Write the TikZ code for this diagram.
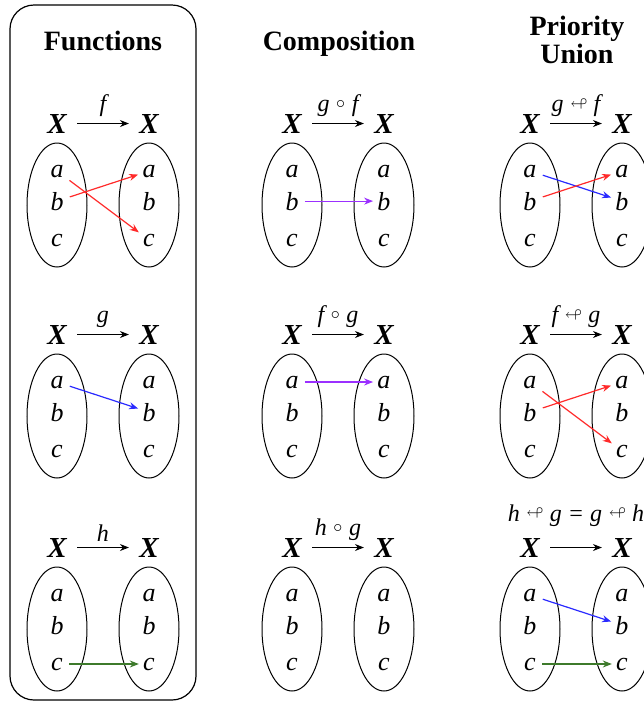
\documentclass[tikz,border=0pt]{standalone}
\usepackage{fontspec}
\setmainfont{Liberation Serif}
\usepackage{amssymb}
\usetikzlibrary{positioning, arrows.meta, shapes.geometric}

\definecolor{mapred}{HTML}{FF2A2A}
\definecolor{mapblue}{HTML}{2A2AFF}
\definecolor{mappurple}{HTML}{9B30FF}
\definecolor{mapgreen}{HTML}{3D7A2B}

\tikzset{
  title/.style={font=\fontsize{14}{12.5}\selectfont\bfseries, align=center, inner sep=0pt},
  spacelabel/.style={font=\fontsize{14.5}{14.5}\selectfont\bfseries\itshape, inner sep=5pt, anchor=base},
  elem/.style={font=\fontsize{13}{13}\selectfont\itshape, inner sep=2pt, anchor=base},
  setoval/.style={draw, ellipse, line width=0.5pt, minimum width=30pt, minimum height=62pt, inner sep=0pt},
  maparrow/.style={-{Stealth[length=4.5pt, width=3.5pt]}, line width=0.5pt},
  maplabel/.style={above, font=\fontsize{12}{12}\selectfont\itshape, inner sep=3pt},
  pairarrow/.style={-{Stealth[length=4.5pt, width=3.5pt]}, line width=0.6pt, shorten <=1pt}
}

% small raised symbols for the labels
\newcommand{\comp}{\raisebox{0.35ex}{\scalebox{0.75}{$\circ$}}}
\newcommand{\prio}{\raisebox{0.3ex}{\scalebox{0.7}{$\looparrowleft$}}}

% one panel: #1 name, #2 x of left set, #3 baseline of the X row, #4 arrow label
\newcommand{\mappanel}[4]{%
  \node[spacelabel] (#1-X1) at (#2,#3) {X};
  \node[spacelabel] (#1-X2) at (#2+92,#3) {X};
  \draw[maparrow] (#1-X1) -- node[maplabel] {#4} (#1-X2);
  \node[setoval] (#1-L) at (#2,#3+72) {};
  \node[setoval] (#1-R) at (#2+92,#3+72) {};
  \foreach \el/\dy in {a/44,b/77,c/113} {
    \node[elem] (#1-L\el) at (#2,#3+\dy) {\el};
    \node[elem] (#1-R\el) at (#2+92,#3+\dy) {\el};
  }
}

\begin{document}
\begin{tikzpicture}[x=0.5pt, y=-0.5pt]
    \useasboundingbox (0,0) rectangle (644,709);

    % Frame round the first column
    \draw[line width=0.6pt, rounded corners=12pt] (10,5) rectangle (196,700);

    % Column titles
    \node[title, anchor=base] (tfun) at (103,50) {Functions};
    \node[title, anchor=base] (tcomp) at (339,50) {Composition};
    \node[title] (tprio) at (577,40) {Priority\\Union};

    % Functions
    \mappanel{f}{57}{133}{f}
    \mappanel{g}{57}{344}{g}
    \mappanel{h}{57}{557}{h}

    % Compositions
    \mappanel{gf}{292}{133}{g\;\comp\;f}
    \mappanel{fg}{292}{344}{f\;\comp\;g}
    \mappanel{hg}{292}{557}{h\;\comp\;g}

    % Priority unions
    \mappanel{pgf}{530}{133}{g\;\prio\;f}
    \mappanel{pfg}{530}{344}{f\;\prio\;g}
    \mappanel{phg}{530}{557}{}
    \node[maplabel, anchor=base] (peq) at (576,521) {h\;\prio\;g = g\;\prio\;h};

    % Element maps
    \draw[pairarrow, mapred] (f-La) -- (f-Rc);
    \draw[pairarrow, mapred] (f-Lb) -- (f-Ra);
    \draw[pairarrow, mapblue] (g-La) -- (g-Rb);
    \draw[pairarrow, mapgreen] (h-Lc) -- (h-Rc);

    \draw[pairarrow, mappurple] (gf-Lb) -- (gf-Rb);
    \draw[pairarrow, mappurple] (fg-La) -- (fg-Ra);

    \draw[pairarrow, mapblue] (pgf-La) -- (pgf-Rb);
    \draw[pairarrow, mapred] (pgf-Lb) -- (pgf-Ra);
    \draw[pairarrow, mapred] (pfg-La) -- (pfg-Rc);
    \draw[pairarrow, mapred] (pfg-Lb) -- (pfg-Ra);
    \draw[pairarrow, mapblue] (phg-La) -- (phg-Rb);
    \draw[pairarrow, mapgreen] (phg-Lc) -- (phg-Rc);
\end{tikzpicture}
\end{document}
